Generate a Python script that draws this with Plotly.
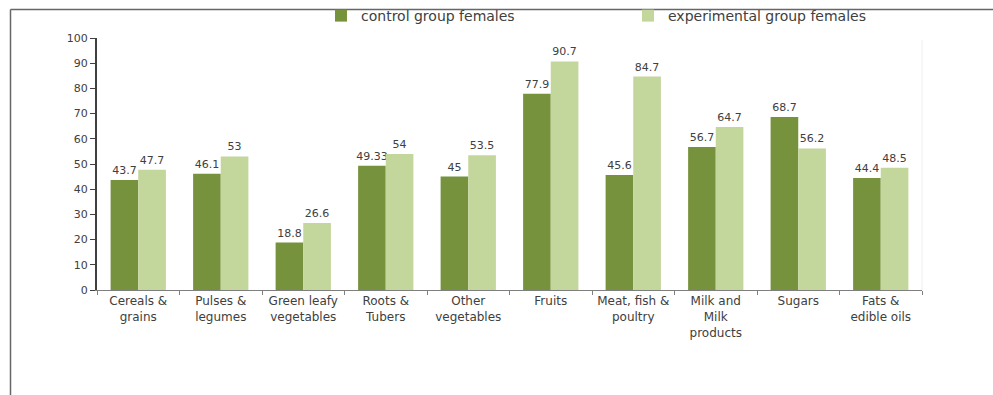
import plotly.graph_objects as go

categories = [
    "Cereals &<br>grains", "Pulses &<br>legumes", "Green leafy<br>vegetables",
    "Roots &<br>Tubers", "Other<br>vegetables", "Fruits",
    "Meat, fish &<br>poultry", "Milk and<br>Milk<br>products", "Sugars",
    "Fats &<br>edible oils",
]
control_females = [43.7, 46.1, 18.8, 49.33, 45, 77.9, 45.6, 56.7, 68.7, 44.4]
experimental_females = [47.7, 53, 26.6, 54, 53.5, 90.7, 84.7, 64.7, 56.2, 48.5]
series_names = ["control group females", "experimental group females"]
y_ticks = [0, 10, 20, 30, 40, 50, 60, 70, 80, 90, 100]

W, H = 993, 395
FONT = "DejaVu Sans"
TEXT_COL = "#404040"
DARK_GREEN = "#76923C"
LIGHT_GREEN = "#C3D69B"

fig = go.Figure()
for name, vals, col in [
    (series_names[0], control_females, DARK_GREEN),
    (series_names[1], experimental_females, LIGHT_GREEN),
]:
    fig.add_trace(go.Bar(
        name=name, x=categories, y=vals,
        marker=dict(color=col, line=dict(width=0)),
        text=[f"{v:g}" for v in vals],
        textposition="outside", textangle=0, constraintext="none",
        textfont=dict(family=FONT, size=11, color=TEXT_COL),
        cliponaxis=False,
    ))

# plot area in pixels
x0, x1 = 97, 922
y_top, y_bot = 38, 290

fig.update_layout(
    width=W, height=H,
    margin=dict(l=0, r=0, t=0, b=0, autoexpand=False),
    paper_bgcolor="white", plot_bgcolor="white",
    barmode="group", bargap=0.33, bargroupgap=0,
    font=dict(family=FONT, color=TEXT_COL),
    showlegend=True,
    legend=dict(
        orientation="h", xref="container", yref="container",
        x=321 / W, xanchor="left",
        y=1 - 16 / H, yanchor="middle",
        font=dict(family=FONT, size=14, color=TEXT_COL),
        entrywidth=262, entrywidthmode="pixels",
        bgcolor="rgba(0,0,0,0)", itemclick=False,
        traceorder="normal",
    ),
    xaxis=dict(
        domain=[x0 / W, x1 / W],
        type="category",
        showgrid=False, zeroline=False,
        showline=True, linecolor="#7f7f7f", linewidth=1,
        ticks="outside", tickson="boundaries", ticklen=4, tickcolor="#7f7f7f",
        tickfont=dict(family=FONT, size=12, color=TEXT_COL),
        tickangle=0,
    ),
    yaxis=dict(
        domain=[1 - y_bot / H, 1 - y_top / H],
        range=[0, 100], tickvals=y_ticks,
        showgrid=False, zeroline=False,
        showline=True, linecolor="#404040", linewidth=2,
        ticks="outside", ticklen=5, tickcolor="#404040",
        tickfont=dict(family=FONT, size=11, color=TEXT_COL),
    ),
    shapes=[
        # outer frame: left and top edges
        dict(type="line", xref="paper", yref="paper",
             x0=10.5 / W, x1=10.5 / W, y0=0, y1=1 - 9.5 / H,
             line=dict(color="#666666", width=1.5)),
        dict(type="line", xref="paper", yref="paper",
             x0=10.5 / W, x1=1, y0=1 - 9.5 / H, y1=1 - 9.5 / H,
             line=dict(color="#666666", width=1.5)),
        # faint right edge of plot area
        dict(type="line", xref="paper", yref="paper",
             x0=x1 / W, x1=x1 / W, y0=1 - y_bot / H, y1=1 - 40 / H,
             line=dict(color="#eeeeee", width=1)),
    ],
)

fig.write_html("out.html")
